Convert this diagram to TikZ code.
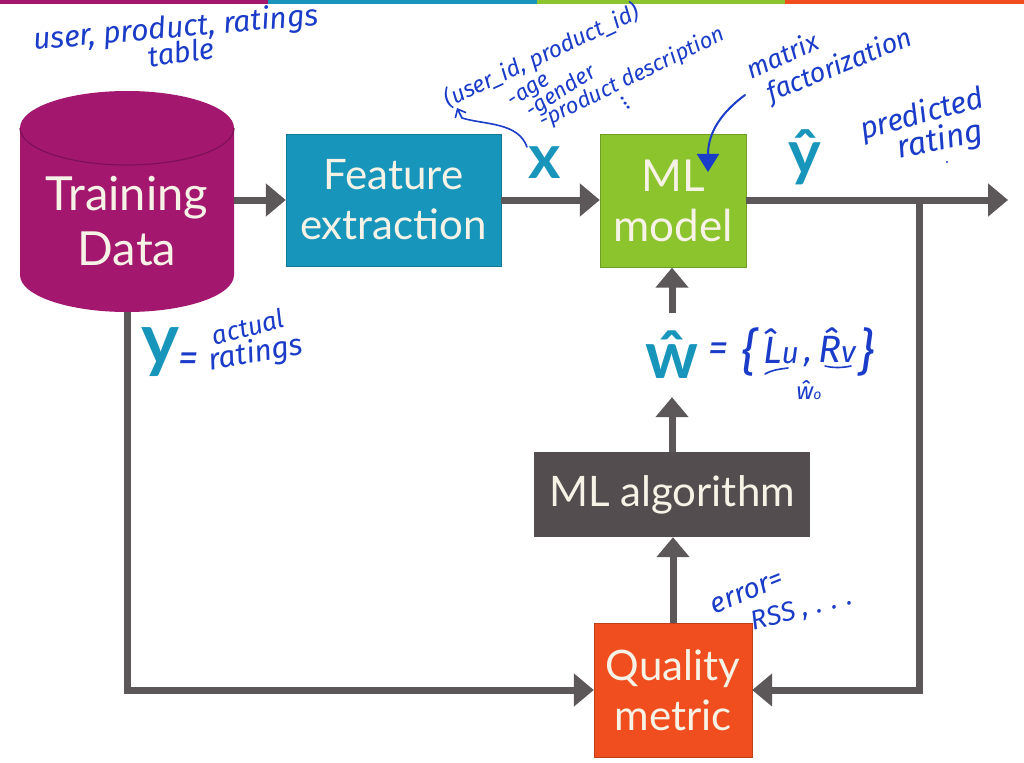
\documentclass[tikz,border=0pt]{standalone}
\usepackage{fontspec}
\setmainfont{Lato}
\newfontfamily\inkfont{Fira Sans}
\usetikzlibrary{arrows.meta}
\definecolor{cpurple}{HTML}{A3176F}
\definecolor{cpurpled}{HTML}{7F1058}
\definecolor{cteal}{HTML}{1795BB}
\definecolor{cgreen}{HTML}{8CC42D}
\definecolor{corange}{HTML}{F04E1E}
\definecolor{cdark}{HTML}{534D4F}
\definecolor{cline}{HTML}{5C5759}
\definecolor{cink}{HTML}{1A3CC8}
\definecolor{ccream}{HTML}{F7F2E6}
\tikzset{
  boxstyle/.style={rectangle,inner sep=0pt,text=ccream,align=center,font=\fontsize{42}{50}\selectfont},
  flow/.style={line width=7pt,color=cline,-{Triangle[length=20pt,width=32pt]}},
  flowplain/.style={line width=7pt,color=cline},
  ink/.style={text=cink,inner sep=0pt,font=\inkfont\itshape\fontsize{#1}{#1}\selectfont},
  ink/.default=20,
  inkline/.style={draw=cink,line width=1.6pt,line cap=round},
  tealmark/.style={text=cteal,inner sep=0pt,font=\bfseries\fontsize{#1}{#1}\selectfont},
}
\begin{document}
\begin{tikzpicture}[x=1pt,y=-1pt]
\useasboundingbox (0,0) rectangle (1024,762);
\fill[white] (0,0) rectangle (1024,762);
% top bar
\fill[cpurple] (0,0) rectangle (268,4);
\fill[cteal] (268,0) rectangle (537,4);
\fill[cgreen] (537,0) rectangle (785,4);
\fill[corange] (785,0) rectangle (1024,4);
% cylinder
\fill[cpurple] (20,128) -- (20,275) arc[x radius=107pt,y radius=37pt,start angle=180,end angle=360]
  -- (234,128) arc[x radius=107pt,y radius=37pt,start angle=0,end angle=180] -- cycle;
\draw[cpurpled,line width=1.2pt] (20,128) arc[x radius=107pt,y radius=37pt,start angle=180,end angle=360];
\node[rectangle,minimum width=214pt,minimum height=221pt,inner sep=0pt] (train) at (127,201.5) {};
\node[boxstyle,font=\fontsize{47}{55}\selectfont] (trainlabel) at (127,221) {Training\\Data};
% boxes
\node[boxstyle,fill=cteal,draw=cteal!80!black,minimum width=215pt,minimum height=132pt] (feat) at (393.5,200) {Feature\\extraction};
\node[boxstyle,font=\fontsize{44}{50}\selectfont,fill=cgreen,draw=cgreen!80!black,minimum width=146pt,minimum height=133pt] (model) at (673,201) {ML\\model};
\node[boxstyle,fill=cdark,minimum width=276pt,minimum height=85pt] (algo) at (672,494.5) {ML algorithm};
\node[boxstyle,fill=corange,draw=corange!80!black,minimum width=158pt,minimum height=134pt] (qual) at (673,690) {Quality\\metric};
% teal labels
\node[tealmark=66,minimum height=84pt] (what) at (672,355) {ŵ};
\node[tealmark=62] (xlab) at (545,163) {x};
\node[tealmark=62] (yhat) at (805,157) {ŷ};
\node[tealmark=72] (ylab) at (160,352) {y};
% connectors
\coordinate (branch) at (919,200);
\coordinate (outend) at (1008,200);
\draw[flow] (train.east |- feat.west) -- (feat.west);
\draw[flow] (feat.east) -- (feat.east -| model.west);
\draw[flowplain] (feat.east -| model.east) -- (branch);
\draw[flow] (branch) -- (outend);
\draw[flow] (branch) |- (qual.east);
\draw[flow] (train.south) |- (qual.west);
\draw[flow] (qual.north) -- (algo.south -| qual.north);
\draw[flow] (algo.north) -- (what.south);
\draw[flow] (what.north) -- (model.south -| what.north);
% ink notes
\node[ink=30,rotate=5] (n1) at (176,29) {user, product, ratings};
\node[ink=29,rotate=8] (n2) at (181,52) {table};
\node[ink=23,rotate=25] (n3) at (542,56) {(user\_id, product\_id)};
\node[ink=22,rotate=32] (n4) at (530,92) {-age};
\node[ink=22,rotate=33] (n5) at (561,92) {-gender};
\node[ink=22,rotate=26] (n6) at (632,78) {-product description};
\node[ink=22,rotate=-60] (n7) at (626,104) {...};
\node[ink=26,rotate=24] (n8) at (782,55) {matrix};
\node[ink=27,rotate=22] (n9) at (840,66) {factorization};
\node[ink=30,rotate=15] (n10) at (922,115) {predicted};
\node[ink=32,rotate=12] (n11) at (940,141) {rating};
\fill[cink] (947,162) circle (1.2pt);
\node[ink=26,rotate=15] (n12) at (248,327) {actual};
\node[ink=30,rotate=10] (n13) at (256,354) {ratings};
\node[ink=40] (n14) at (188,362) {=};
\node[ink=28,rotate=22] (n15) at (747,593) {error=};
\node[ink=27,rotate=15] (n16) at (802,610) {RSS , . . .};
\node[ink=40] (n17) at (718,352) {=};
\node[ink=50] (n18) at (749,352) {\{};
\node[ink=38] (n19) at (781,346) {\^{L}\fontsize{30}{30}\selectfont u};
\node[ink=32] (n20) at (808,362) {,};
\node[ink=38] (n21) at (837,345) {\^{R}\fontsize{30}{30}\selectfont v};
\node[ink=50] (n22) at (866,352) {\}};
\node[ink=24] (n23) at (809,390) {ŵ\fontsize{14}{14}\selectfont o};
\draw[inkline] (765,374) .. controls (772,370) and (780,369) .. (788,368);
\draw[inkline] (825,366) .. controls (833,368) and (842,368) .. (851,366);
% ink arrows
\coordinate (xstart) at (527,147);
\coordinate (xend) at (457,108);
\draw[inkline,-{Straight Barb[length=7pt,width=12pt]}] (xstart) .. controls (518,122) and (485,125) .. (462,118) -- (xend);
\coordinate (mstart) at (745,95);
\coordinate (mend) at (708,172);
\draw[inkline,line width=2pt,-{Triangle[length=18pt,width=22pt]}] (mstart) .. controls (722,112) and (708,132) .. (mend);
\end{tikzpicture}
\end{document}
